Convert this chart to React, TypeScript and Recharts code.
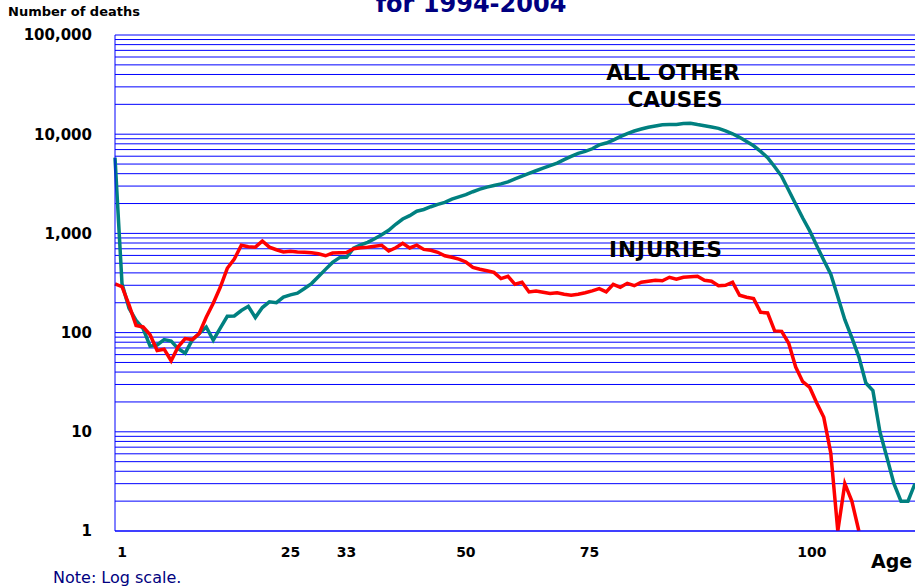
import React from 'react';
import { LineChart, Line, XAxis, YAxis, CartesianGrid } from 'recharts';

const ages: number[] = Array.from({ length: 115 }, (_, i) => i);

const injuries: (number | null)[] = [
  310, 290, 190, 118, 114, 95, 66, 68, 52, 72,
  87, 85, 98, 143, 198, 286, 445, 550, 760, 733,
  727, 839, 727, 684, 650, 660, 650, 645, 638, 623,
  595, 634, 638, 640, 700, 716, 727, 742, 760, 665,
  716, 795, 713, 760, 690, 676, 645, 595, 575, 550,
  515, 455, 435, 420, 405, 350, 370, 307, 322, 257,
  263, 255, 248, 252, 244, 238, 244, 252, 263, 278,
  257, 307, 286, 314, 297, 322, 330, 337, 333, 361,
  345, 361, 366, 370, 337, 330, 297, 300, 322, 238,
  227, 220, 160, 158, 104, 103, 78, 45, 32, 28,
  19.5, 14, 6.1, 1, 3, 2, 1, null, null, null,
  null, null, null, null, null,
];

const allOtherCauses: number[] = [
  5800, 310, 176, 133, 110, 73, 75, 85, 82, 69,
  62, 84, 98, 114, 84, 111, 146, 147, 167, 184,
  142, 179, 204, 200, 228, 240, 250, 278, 312, 368,
  434, 510, 570, 575, 710, 766, 813, 883, 970, 1074,
  1236, 1396, 1510, 1675, 1742, 1857, 1963, 2055, 2213, 2333,
  2457, 2630, 2790, 2930, 3040, 3155, 3310, 3550, 3785, 4030,
  4280, 4550, 4820, 5120, 5550, 5970, 6400, 6700, 7130, 7800,
  8150, 8720, 9460, 10150, 10770, 11270, 11750, 12110, 12470, 12500,
  12540, 12790, 12900, 12500, 12170, 11830, 11450, 10800, 10100, 9300,
  8450, 7640, 6700, 5800, 4700, 3760, 2720, 1970, 1430, 1060,
  750, 537, 388, 230, 135, 89, 57, 31, 26, 10,
  5.5, 3, 2, 2, 3,
];

const yTicks = [1, 10, 100, 1000, 10000, 100000];
const gridValues = [
  1, 2, 3, 4, 5, 6, 7, 8, 9,
  10, 20, 30, 40, 50, 60, 70, 80, 90,
  100, 200, 300, 400, 500, 600, 700, 800, 900,
  1000, 2000, 3000, 4000, 5000, 6000, 7000, 8000, 9000,
  10000, 20000, 30000, 40000, 50000, 60000, 70000, 80000, 90000,
  100000,
];
const xTickPositions = [1, 25, 33, 50, 67.6, 99.3];
const xTickLabels = ['1', '25', '33', '50', '75', '100'];

const data = ages.map((age, i) => ({
  age,
  injuries: injuries[i],
  other: allOtherCauses[i],
}));

const FONT = "'DejaVu Sans', Verdana, sans-serif";

const YTick = (props: any) => {
  const { x, y, payload } = props;
  return (
    <text x={x} y={y} dy="0.36em" textAnchor="end" fontFamily={FONT} fontWeight="bold" fontSize={15} fill="#000">
      {Number(payload.value).toLocaleString('en-US')}
    </text>
  );
};

const XTick = (props: any) => {
  const { x, y, payload } = props;
  const idx = xTickPositions.indexOf(payload.value);
  return (
    <text x={x} y={y} dy="0.71em" textAnchor="middle" fontFamily={FONT} fontWeight="bold" fontSize={14} fill="#000">
      {idx >= 0 ? xTickLabels[idx] : ''}
    </text>
  );
};

export default function App() {
  return (
    <div>
      <div style={{ position: 'absolute', left: 0, top: 0, width: 915, height: 588, background: '#fff' }}>
        <LineChart width={915} height={588} data={data} margin={{ top: 35, right: 0, bottom: 0, left: 0 }}>
          <CartesianGrid horizontal={true} vertical={false} horizontalValues={gridValues} stroke="#0000ff" strokeWidth={1} />
          <XAxis
            dataKey="age"
            type="number"
            domain={[0, 114]}
            ticks={xTickPositions}
            interval={0}
            tick={<XTick />}
            tickLine={false}
            tickSize={0}
            tickMargin={16}
            height={57}
            axisLine={{ stroke: '#0000ff' }}
            allowDecimals
          />
          <YAxis
            type="number"
            scale="log"
            domain={[1, 100000]}
            ticks={yTicks}
            interval={0}
            width={115}
            tick={<YTick />}
            tickLine={false}
            tickSize={0}
            tickMargin={23}
            axisLine={{ stroke: '#0000ff' }}
            allowDataOverflow
          />
          <Line type="linear" dataKey="other" stroke="#008080" strokeWidth={3.5} dot={false} activeDot={false} isAnimationActive={false} />
          <Line type="linear" dataKey="injuries" stroke="#ff0000" strokeWidth={3.5} dot={false} activeDot={false} isAnimationActive={false} />
        </LineChart>
      </div>
      <svg width={915} height={588} style={{ position: 'absolute', left: 0, top: 0, pointerEvents: 'none' }}>
        <text x={471} y={12} textAnchor="middle" fontFamily={FONT} fontWeight="bold" fontSize={24} fill="#000080">for 1994-2004</text>
        <text x={8} y={16} fontFamily={FONT} fontWeight="bold" fontSize={13} fill="#000">Number of deaths</text>
        <text x={673} y={79.5} textAnchor="middle" fontFamily={FONT} fontWeight="bold" fontSize={21.5} fill="#000">ALL OTHER</text>
        <text x={675} y={106.5} textAnchor="middle" fontFamily={FONT} fontWeight="bold" fontSize={21.5} fill="#000">CAUSES</text>
        <text x={666} y={256.7} textAnchor="middle" fontFamily={FONT} fontWeight="bold" fontSize={21.5} letterSpacing={1} fill="#000">INJURIES</text>
        <text x={871} y={568} fontFamily={FONT} fontWeight="bold" fontSize={19} fill="#000">Age</text>
        <text x={53} y={583} fontFamily={FONT} fontSize={16} fill="#000080">Note: Log scale.</text>
      </svg>
    </div>
  );
}
